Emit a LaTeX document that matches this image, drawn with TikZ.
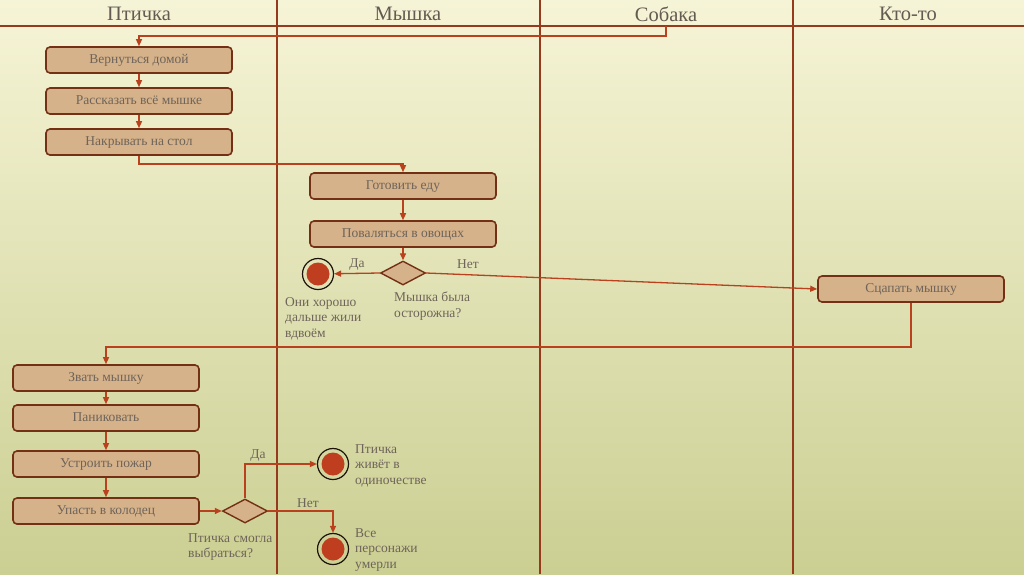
\documentclass[tikz,border=0pt]{standalone}
\usepackage{fontspec}
\setmainfont{Liberation Serif}
\usetikzlibrary{shapes.geometric,arrows.meta}
\definecolor{bgtop}{RGB}{246,244,214}
\definecolor{bgbot}{RGB}{203,207,146}
\definecolor{lane}{RGB}{150,58,30}
\definecolor{conn}{RGB}{185,65,30}
\definecolor{boxfill}{RGB}{214,178,138}
\definecolor{boxdraw}{RGB}{115,48,20}
\definecolor{txt}{RGB}{110,100,90}
\definecolor{dotfill}{RGB}{192,62,32}
\tikzset{
  x=1pt,y=-1pt,
  act/.style={draw=boxdraw,fill=boxfill,line width=1.6pt,rounded corners=4pt,
    minimum width=186pt,minimum height=26pt,inner sep=0pt,text=txt,
    text height=10pt,text depth=3pt,
    font=\fontsize{13.5}{15}\selectfont},
  dec/.style={diamond,draw=boxdraw,fill=boxfill,line width=1.4pt,
    minimum width=45pt,minimum height=24pt,inner sep=0pt,aspect=1.9},
  fin/.style={circle,draw=black!85!brown,line width=1.2pt,fill=none,minimum size=31pt,inner sep=0pt,
    path picture={\fill[dotfill] (path picture bounding box.center) circle (11.5pt);}},
  flow/.style={draw=conn,line width=1.3pt,-{Triangle[length=7pt,width=6pt]}},
  lbl/.style={text=txt,font=\fontsize{13.5}{15.5}\selectfont,inner sep=0pt},
  hdr/.style={text=txt!90!black,font=\fontsize{20.5}{22}\selectfont,inner sep=0pt},
  lanel/.style={draw=lane,line width=1.6pt}
}
\begin{document}
\begin{tikzpicture}
\shade[top color=bgtop,bottom color=bgbot] (0,0) rectangle (1024,574);
\useasboundingbox (0,0) rectangle (1024,574);
% lanes
\draw[lanel] (0,26) -- (1024,26);
\draw[lanel] (277,0) -- (277,574);
\draw[lanel] (540,0) -- (540,574);
\draw[lanel] (793,0) -- (793,574);
\node[hdr] (h1) at (139,14) {Птичка};
\node[hdr] (h2) at (408,14) {Мышка};
\node[hdr] (h3) at (666,14) {Собака};
\node[hdr] (h4) at (908,14) {Кто-то};
% nodes
\node[act] (a1) at (139,60) {Вернуться домой};
\node[act] (a2) at (139,101) {Рассказать всё мышке};
\node[act] (a3) at (139,142) {Накрывать на стол};
\node[act] (b1) at (403,186) {Готовить еду};
\node[act] (b2) at (403,234) {Поваляться в овощах};
\node[dec] (d1) at (403,273) {};
\node[fin] (e1) at (318,274) {};
\node[act] (k1) at (911,289) {Сцапать мышку};
\node[act] (c1) at (106,378) {Звать мышку};
\node[act] (c2) at (106,418) {Паниковать};
\node[act] (c3) at (106,464) {Устроить пожар};
\node[act] (c4) at (106,511) {Упасть в колодец};
\node[dec] (d2) at (245,511) {};
\node[fin] (e2) at (333,464) {};
\node[fin] (e3) at (333,549) {};
\coordinate (s) at (666,26);
% labels
\node[lbl,anchor=north west,align=left] (t1) at (285,297) {Они хорошо\\дальше жили\\вдвоём};
\node[lbl,anchor=north west,align=left] (t2) at (394,292) {Мышка была\\осторожна?};
\node[lbl,anchor=north west,align=left] (t3) at (188,533) {Птичка смогла\\выбраться?};
\node[lbl,anchor=north west,align=left] (t4) at (355,444) {Птичка\\живёт в\\одиночестве};
\node[lbl,anchor=north west,align=left] (t5) at (355,528) {Все\\персонажи\\умерли};
\node[lbl] (l1) at (357,265) {Да};
\node[lbl] (l2) at (468,264) {Нет};
\node[lbl] (l3) at (258,456) {Да};
\node[lbl] (l4) at (308,503) {Нет};
% connectors
\draw[flow] (s) -- (666,36) -| (a1.north);
\draw[flow] (a1) -- (a2);
\draw[flow] (a2) -- (a3);
\draw[flow] (a3.south) -- (139,164) -| (b1.north);
\draw[flow] (b1) -- (b2);
\draw[flow] (b2) -- (d1);
\draw[flow] (d1.west) -- (e1);
\draw[flow] (d1.east) -- (k1.west);
\draw[flow] (k1.south) -- (911,347) -| (c1.north);
\draw[flow] (c1) -- (c2);
\draw[flow] (c2) -- (c3);
\draw[flow] (c3) -- (c4);
\draw[flow] (c4) -- (d2);
\draw[flow] (d2.north) |- (e2.west);
\draw[flow] (d2.east) -| (e3.north);
\end{tikzpicture}
\end{document}
